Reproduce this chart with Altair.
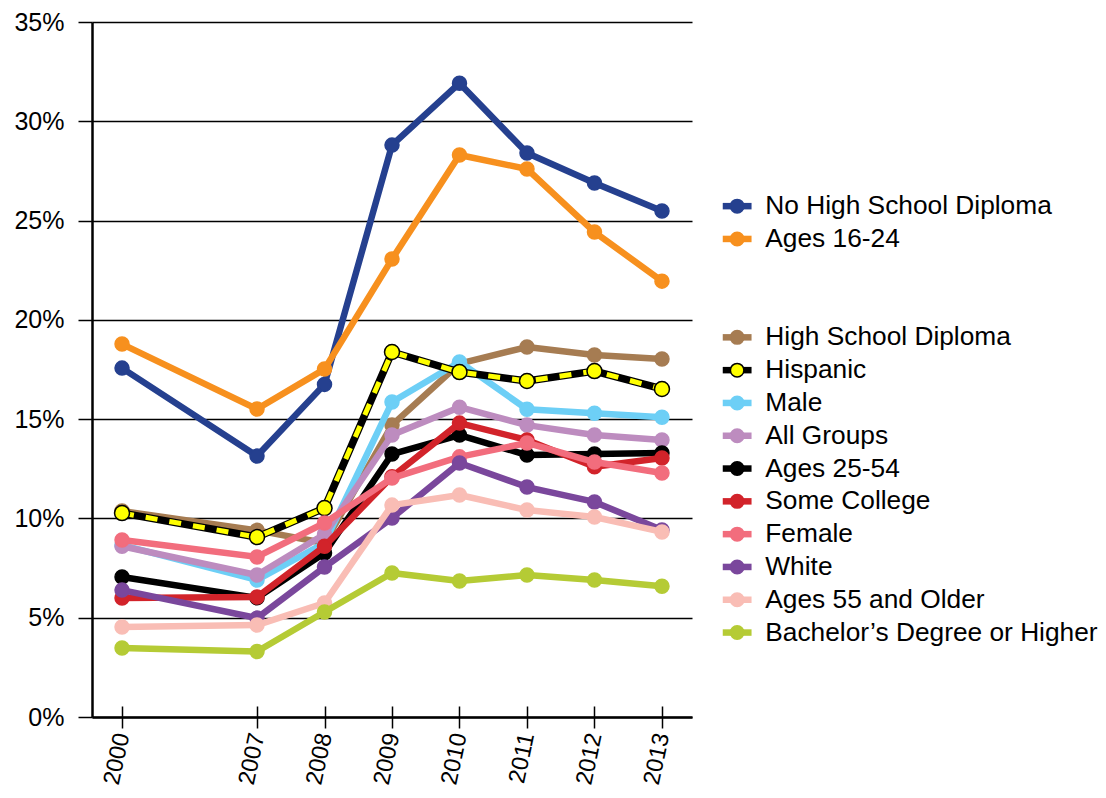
import altair as alt
import pandas as pd

# ---------------- data ----------------
years = ["2000", "2007", "2008", "2009", "2010", "2011", "2012", "2013"]
x_slots = ["2000", "gap", "2007", "2008", "2009", "2010", "2011", "2012", "2013"]

series_names = [
    "No High School Diploma", "Ages 16-24", "High School Diploma", "Hispanic",
    "Male", "All Groups", "Ages 25-54", "Some College", "Female", "White",
    "Ages 55 and Older", "Bachelor’s Degree or Higher",
]

no_hs = [17.57, 13.14, 16.75, 28.80, 31.92, 28.40, 26.89, 25.48]
ages_16_24 = [18.78, 15.51, 17.52, 23.06, 28.30, 27.60, 24.42, 21.95]
hs_diploma = [10.37, 9.40, 8.76, 14.70, 17.80, 18.63, 18.23, 18.03]
hispanic = [10.27, 9.06, 10.52, 18.38, 17.37, 16.92, 17.42, 16.52]
male = [8.66, 6.90, 8.76, 15.86, 17.88, 15.50, 15.30, 15.10]
all_groups = [8.60, 7.15, 9.20, 14.20, 15.60, 14.70, 14.20, 13.95]
ages_25_54 = [7.05, 6.00, 8.26, 13.24, 14.20, 13.19, 13.24, 13.30]
some_college = [5.99, 6.04, 8.60, 12.10, 14.80, 13.95, 12.60, 13.04]
female = [8.91, 8.06, 9.77, 12.03, 13.10, 13.80, 12.84, 12.29]
white = [6.39, 4.98, 7.55, 10.02, 12.79, 11.58, 10.83, 9.42]
ages_55 = [4.53, 4.63, 5.74, 10.67, 11.18, 10.42, 10.07, 9.32]
bachelors = [3.47, 3.30, 5.29, 7.25, 6.85, 7.15, 6.90, 6.58]

values = [no_hs, ages_16_24, hs_diploma, hispanic, male, all_groups,
          ages_25_54, some_college, female, white, ages_55, bachelors]

legend_entries = [
    "No High School Diploma", "Ages 16-24", " ", "  ",
    "High School Diploma", "Hispanic", "Male", "All Groups", "Ages 25-54",
    "Some College", "Female", "White", "Ages 55 and Older",
    "Bachelor’s Degree or Higher",
]
line_colors = [
    "#25408f", "#f7901e", "transparent", "transparent",
    "#a67c52", "#000000", "#6dcff6", "#bd8cbf", "#000000",
    "#d2232a", "#f26d7d", "#7a479c", "#f9bdb5", "#b5cb35",
]
point_fills = [
    "#25408f", "#f7901e", "transparent", "transparent",
    "#a67c52", "#ffff00", "#6dcff6", "#bd8cbf", "#000000",
    "#d2232a", "#f26d7d", "#7a479c", "#f9bdb5", "#b5cb35", "transparent",
]
point_strokes = [
    "#25408f", "#f7901e", "transparent", "transparent",
    "#a67c52", "#000000", "#6dcff6", "#bd8cbf", "#000000",
    "#d2232a", "#f26d7d", "#7a479c", "#f9bdb5", "#b5cb35", "transparent",
]

draw_order = [
    "No High School Diploma", "Ages 16-24", "High School Diploma", "Male",
    "Hispanic", "All Groups", "Ages 25-54", "Some College", "Female", "White",
    "Ages 55 and Older", "Bachelor’s Degree or Higher",
]

rows = []
for name, vals in zip(series_names, values):
    for yr, v in zip(years, vals):
        rows.append({"series": name, "year": yr, "rate": v})
df = pd.DataFrame(rows)

FONT = "Liberation Sans"
W, H = 600, 695

# ---------------- encodings ----------------
x_enc = alt.X(
    "year:O",
    scale=alt.Scale(type="point", domain=x_slots, padding=0.445),
    axis=alt.Axis(
        values=years, title=None, labelAngle=-78, labelFontSize=23.5,
        labelFont=FONT, labelColor="black", labelPadding=5,
        domainColor="black", domainWidth=2.5, tickColor="black",
        tickWidth=1.5, tickSize=11, grid=True, gridColor="black",
        gridWidth=1.5, gridDash=[0, H - 11, 11, 3000], labelOverlap=False,
    ),
)
y_enc = alt.Y(
    "rate:Q",
    scale=alt.Scale(domain=[0, 35], nice=False),
    axis=alt.Axis(
        values=[0, 5, 10, 15, 20, 25, 30, 35], title=None,
        labelExpr="datum.value + '%'", labelFontSize=25, labelFont=FONT,
        labelColor="black", labelPadding=14, domainColor="black",
        domainWidth=2.5, tickColor="black", tickWidth=1.5, tickSize=14,
        grid=True, gridColor="black", gridWidth=1.5,
    ),
)

LX, LY = 632, 171
LABEL_SIZE = 26.3
ROW_PAD = 5.8
legend_a = alt.Legend(
    title=None, orient="none", legendX=LX, legendY=LY,
    symbolType="M-1.6,0H1.6", symbolSize=324, symbolStrokeWidth=6.5,
    labelFont=FONT, labelFontSize=LABEL_SIZE, labelColor="black",
    labelLimit=500, labelOffset=15, rowPadding=ROW_PAD, padding=0,
)
legend_b = alt.Legend(
    title=None, orient="none", legendX=LX, legendY=LY, values=legend_entries,
    symbolType="M-0.75,0A0.75,0.75,0,1,1,0.75,0A0.75,0.75,0,1,1,-0.75,0Z",
    symbolSize=324, symbolStrokeWidth=1.5, symbolOpacity=1,
    labelFont=FONT, labelFontSize=LABEL_SIZE, labelOpacity=0,
    labelLimit=500, labelOffset=15, rowPadding=ROW_PAD, padding=0,
)

color_enc = alt.Color(
    "series:N", scale=alt.Scale(domain=legend_entries, range=line_colors),
    legend=legend_a,
)
fill_enc = alt.Fill(
    "series:N",
    scale=alt.Scale(domain=legend_entries + ["zz"], range=point_fills),
    legend=legend_b,
)
stroke_enc = alt.Stroke(
    "series:N",
    scale=alt.Scale(domain=legend_entries + ["zz"], range=point_strokes),
    legend=legend_b,
)

base = alt.Chart(df)
layers = []
for name in draw_order:
    sub = base.transform_filter(alt.datum.series == name)
    layers.append(
        sub.mark_line(strokeWidth=6.5 if name != "Hispanic" else 7.5,
                      strokeJoin="round", strokeCap="round")
        .encode(x=x_enc, y=y_enc, color=color_enc)
    )
    if name == "Hispanic":
        layers.append(
            sub.mark_line(strokeWidth=5, color="#ffff00", strokeDash=[12, 12])
            .encode(x=x_enc, y=y_enc)
        )
    layers.append(
        sub.mark_point(filled=True, opacity=1,
                       size=225 if name == "Hispanic" else 196,
                       strokeWidth=1.5)
        .encode(x=x_enc, y=y_enc, fill=fill_enc, stroke=stroke_enc)
    )

chart = (
    alt.layer(*layers)
    .properties(
        width=W, height=H,
        autosize=alt.AutoSizeParams(type="none"),
        padding={"left": 84, "top": 14, "right": 406, "bottom": 73},
        background="white",
    )
    .configure(font=FONT)
    .configure_view(stroke="white", strokeOpacity=0, strokeWidth=0)
)

chart.save("out.html", embed_options={"renderer": "svg", "actions": False})
